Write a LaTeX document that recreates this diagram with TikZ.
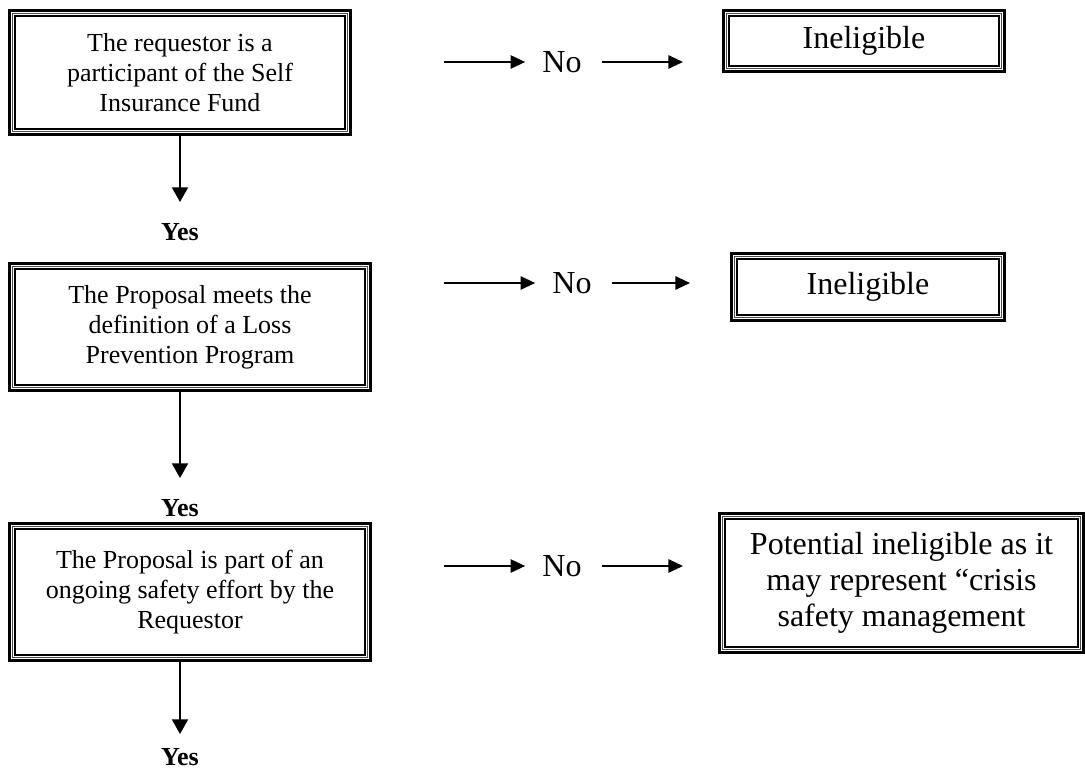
\documentclass[tikz,border=0pt]{standalone}
\usepackage{fontspec}
\setmainfont{Liberation Serif}
\usetikzlibrary{arrows.meta,calc}
\tikzset{
  outerln/.style={draw=black,line width=2.2pt},
  midln/.style={draw=black!70,line width=0.6pt},
  innerln/.style={draw=black,line width=1.3pt},
  ltext/.style={align=center,font=\fontsize{19.5}{22.5}\selectfont,inner sep=0pt},
  rtext/.style={align=center,font=\fontsize{24}{27}\selectfont,inner sep=0pt},
  lbl/.style={font=\fontsize{24}{27}\selectfont,inner sep=0pt},
  yes/.style={font=\fontsize{19.5}{22.5}\selectfont\bfseries,inner sep=0pt},
  varr/.style={line width=1.5pt,-{Triangle[length=11pt,width=12pt]}},
  harr/.style={line width=1.4pt,-{Triangle[length=11pt,width=10pt]}}
}
\newcommand{\tribox}[5]{%
  \coordinate (#1-nw) at (#2,#3); \coordinate (#1-se) at (#4,#5);
  \draw[outerln] ($(#1-nw)+(1.5,1.5)$) rectangle ($(#1-se)+(-1.5,-1.5)$);
  \draw[midln] ($(#1-nw)+(4.8,4.8)$) rectangle ($(#1-se)+(-4.8,-4.8)$);
  \draw[innerln] ($(#1-nw)+(7.2,7.2)$) rectangle ($(#1-se)+(-7.2,-7.2)$);
  \path ($(#1-nw)!0.5!(#1-se)$) coordinate (#1-c);
}
\begin{document}
\begin{tikzpicture}[x=0.75pt,y=-0.75pt]
\useasboundingbox (0,0) rectangle (1085,770);
% left boxes
\tribox{b1}{8}{9}{352}{136}
\node[ltext] (t1) at (b1-c) {The requestor is a\\participant of the Self\\Insurance Fund};
\tribox{b2}{8}{262}{372}{392}
\node[ltext] (t2) at (b2-c) {The Proposal meets the\\definition of a Loss\\Prevention Program};
\tribox{b3}{8}{522}{372}{662}
\node[ltext] (t3) at (b3-c) {The Proposal is part of an\\ongoing safety effort by the\\Requestor};
% right boxes
\tribox{r1}{722}{9}{1006}{73}
\node[rtext] (u1) at (r1-c) {Ineligible};
\tribox{r2}{730}{252}{1006}{322}
\node[rtext] (u2) at (r2-c) {Ineligible};
\tribox{r3}{718}{512}{1085}{654}
\node[rtext] (u3) at (r3-c) {Potential ineligible as it\\may represent \textquotedblleft crisis\\safety management};
% yes labels and downward arrows
\node[yes] (y1) at (180,232) {Yes};
\node[yes] (y2) at (180,508) {Yes};
\node[yes] (y3) at (180,757) {Yes};
\coordinate (e1) at (180,202);
\coordinate (e2) at (180,478);
\coordinate (e3) at (180,734);
\draw[varr] (e1 |- b1-se) -- (e1);
\draw[varr] (e2 |- b2-se) -- (e2);
\draw[varr] (e3 |- b3-se) -- (e3);
% No rows
\node[lbl] (n1) at (562,62) {No};
\node[lbl] (n2) at (572,283) {No};
\node[lbl] (n3) at (562,566) {No};
\coordinate (a1) at (444,62); \coordinate (a1e) at (683,62);
\coordinate (a2) at (444,283); \coordinate (a2e) at (690,283);
\coordinate (a3) at (444,566); \coordinate (a3e) at (683,566);
\draw[harr] (a1) -- ($(n1.west)+(-17,0)$);
\draw[harr] ($(n1.east)+(20,0)$) -- (a1e);
\draw[harr] (a2) -- ($(n2.west)+(-17,0)$);
\draw[harr] ($(n2.east)+(20,0)$) -- (a2e);
\draw[harr] (a3) -- ($(n3.west)+(-17,0)$);
\draw[harr] ($(n3.east)+(20,0)$) -- (a3e);
\end{tikzpicture}
\end{document}
